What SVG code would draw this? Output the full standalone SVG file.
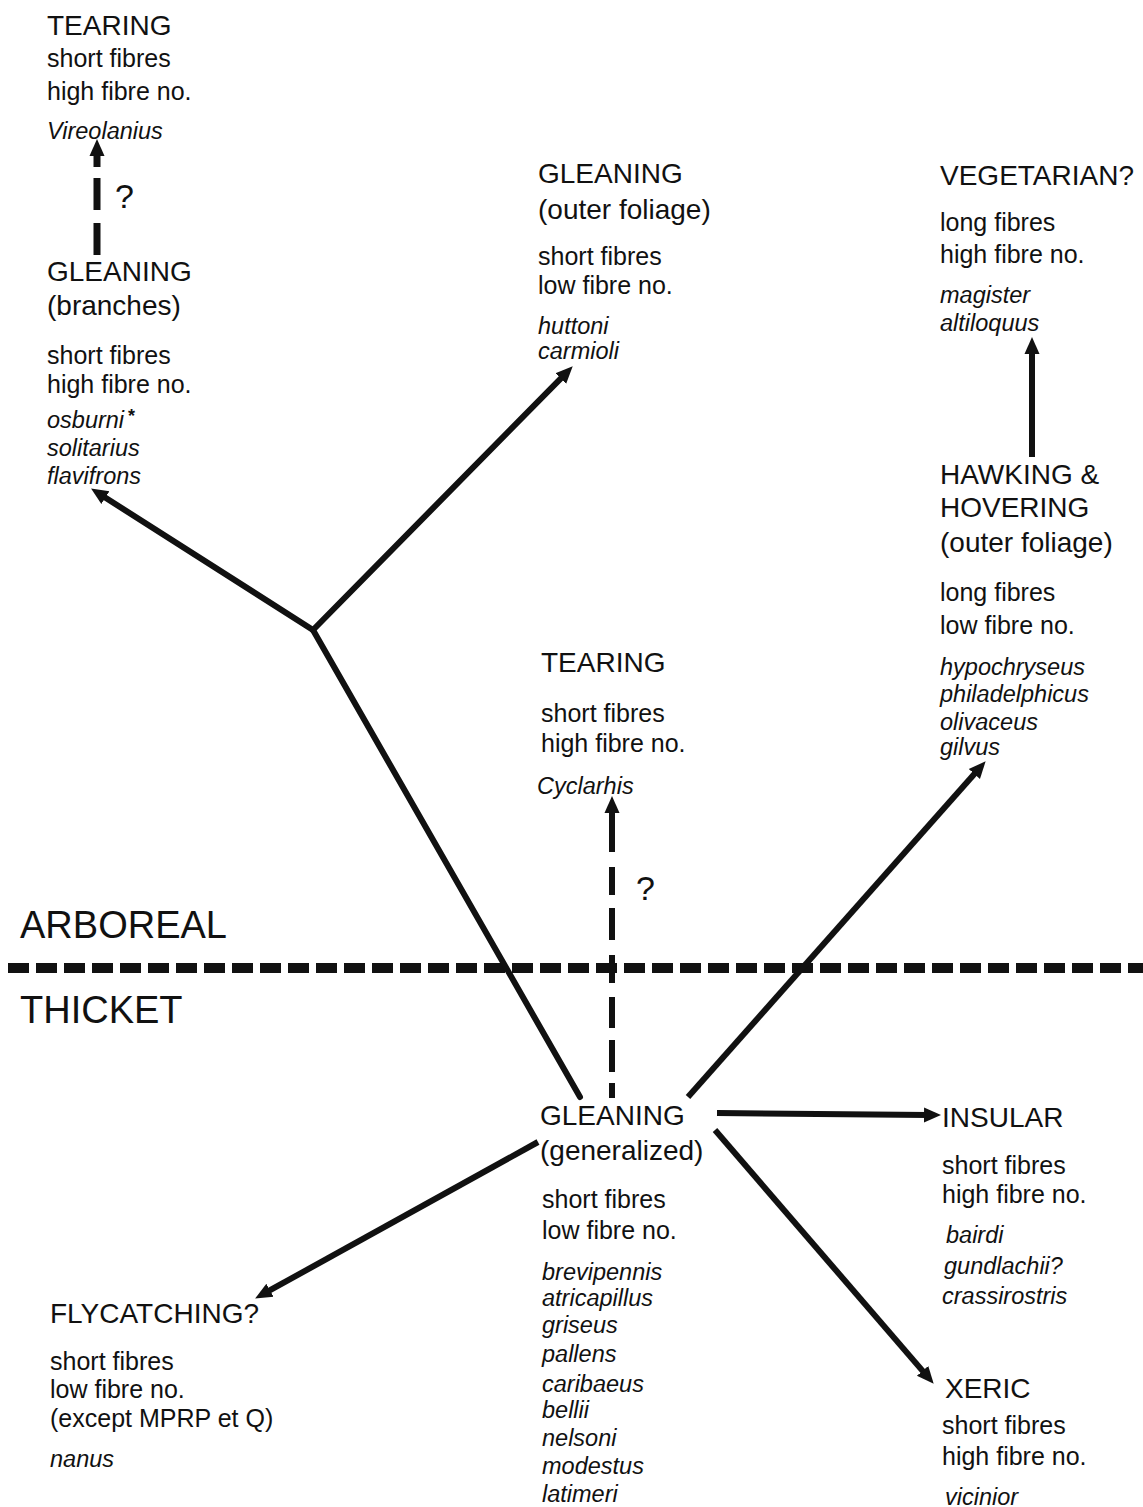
<svg xmlns="http://www.w3.org/2000/svg" width="1143" height="1507" viewBox="0 0 1143 1507">
<style>
text{font-family:"Liberation Sans",Arial,sans-serif;fill:#111}
.h{font-size:28px}
.d{font-size:25px}
.s{font-size:23.5px;font-style:italic}
.q{font-size:34px}
.zone{font-size:38px}
.ln{stroke:#111;stroke-width:6;fill:none}
.border{stroke:#111;stroke-width:10;stroke-dasharray:21 7;fill:none}
.thick{stroke-width:7}
</style>
<defs>
<marker id="ah" markerUnits="userSpaceOnUse" markerWidth="19" markerHeight="17" refX="4" refY="8.5" orient="auto">
<path d="M0,1 L17,8.5 L0,16 z" fill="#111"/>
</marker>
</defs>
<rect width="1143" height="1507" fill="#fff"/>

<g id="connectors">
<line class="border" x1="8" y1="968" x2="1143" y2="968"/>
<path class="ln" d="M580,1097 L313,630" stroke-linecap="round"/>
<line class="ln" x1="313" y1="630" x2="102" y2="495.5" marker-end="url(#ah)" stroke-linecap="round"/>
<line class="ln" x1="313" y1="630" x2="563.6" y2="375.6" marker-end="url(#ah)" stroke-linecap="round"/>
<line class="ln" x1="688" y1="1097" x2="977" y2="771" marker-end="url(#ah)"/>
<line class="ln" x1="538" y1="1142" x2="266.5" y2="1292.2" marker-end="url(#ah)"/>
<line class="ln" x1="717" y1="1113" x2="928" y2="1115" marker-end="url(#ah)"/>
<line class="ln" x1="715" y1="1130" x2="925.2" y2="1373.9" marker-end="url(#ah)"/>
<line class="ln" x1="1032" y1="457" x2="1032" y2="350" marker-end="url(#ah)"/>
<line class="ln" x1="612" y1="852" x2="612" y2="809" marker-end="url(#ah)"/>
<path class="ln" d="M612,867 V895 M612,908 V940 M612,955 V983 M612,997 V1028 M612,1040 V1072 M612,1083 V1098"/>
<line class="ln thick" x1="97" y1="167" x2="97" y2="152" marker-end="url(#ah)"/>
<path class="ln thick" d="M97,178 V210 M97,223 V255"/>
</g>

<g id="tearing-vireolanius">
<text class="h" x="47" y="35">TEARING</text>
<text class="d" x="47" y="67">short fibres</text>
<text class="d" x="47" y="100">high fibre no.</text>
<text class="s" x="47" y="139">Vireolanius</text>
</g>
<text class="q" x="115" y="208">?</text>

<g id="gleaning-branches">
<text class="h" x="47" y="281">GLEANING</text>
<text class="h" x="47" y="315">(branches)</text>
<text class="d" x="47" y="364">short fibres</text>
<text class="d" x="47" y="393">high fibre no.</text>
<text class="s" x="47" y="428">osburni<tspan font-style="normal" font-weight="bold" dx="4" dy="-6" font-size="18">*</tspan></text>
<text class="s" x="47" y="456">solitarius</text>
<text class="s" x="47" y="484">flavifrons</text>
</g>

<g id="gleaning-outer">
<text class="h" x="538" y="183">GLEANING</text>
<text class="h" x="538" y="219">(outer foliage)</text>
<text class="d" x="538" y="265">short fibres</text>
<text class="d" x="538" y="294">low fibre no.</text>
<text class="s" x="538" y="334">huttoni</text>
<text class="s" x="538" y="359">carmioli</text>
</g>

<g id="vegetarian">
<text class="h" x="940" y="185">VEGETARIAN?</text>
<text class="d" x="940" y="231">long fibres</text>
<text class="d" x="940" y="263">high fibre no.</text>
<text class="s" x="940" y="303">magister</text>
<text class="s" x="940" y="331">altiloquus</text>
</g>

<g id="hawking">
<text class="h" x="940" y="484">HAWKING &amp;</text>
<text class="h" x="940" y="517">HOVERING</text>
<text class="h" x="940" y="552">(outer foliage)</text>
<text class="d" x="940" y="601">long fibres</text>
<text class="d" x="940" y="634">low fibre no.</text>
<text class="s" x="940" y="675">hypochryseus</text>
<text class="s" x="940" y="702">philadelphicus</text>
<text class="s" x="940" y="730">olivaceus</text>
<text class="s" x="940" y="755">gilvus</text>
</g>

<g id="tearing-cyclarhis">
<text class="h" x="541" y="672">TEARING</text>
<text class="d" x="541" y="722">short fibres</text>
<text class="d" x="541" y="752">high fibre no.</text>
<text class="s" x="537" y="794">Cyclarhis</text>
</g>
<text class="q" x="636" y="900">?</text>

<g id="zones">
<text class="zone" x="20" y="938">ARBOREAL</text>
<text class="zone" x="20" y="1023">THICKET</text>
</g>

<g id="gleaning-generalized">
<text class="h" x="540" y="1125">GLEANING</text>
<text class="h" x="540" y="1160">(generalized)</text>
<text class="d" x="542" y="1208">short fibres</text>
<text class="d" x="542" y="1239">low fibre no.</text>
<text class="s" x="542" y="1280">brevipennis</text>
<text class="s" x="542" y="1306">atricapillus</text>
<text class="s" x="542" y="1333">griseus</text>
<text class="s" x="542" y="1362">pallens</text>
<text class="s" x="542" y="1392">caribaeus</text>
<text class="s" x="542" y="1418">bellii</text>
<text class="s" x="542" y="1446">nelsoni</text>
<text class="s" x="542" y="1474">modestus</text>
<text class="s" x="542" y="1502">latimeri</text>
</g>

<g id="insular">
<text class="h" x="942" y="1127">INSULAR</text>
<text class="d" x="942" y="1174">short fibres</text>
<text class="d" x="942" y="1203">high fibre no.</text>
<text class="s" x="946" y="1243">bairdi</text>
<text class="s" x="944" y="1274">gundlachii?</text>
<text class="s" x="942" y="1304">crassirostris</text>
</g>

<g id="xeric">
<text class="h" x="945" y="1398">XERIC</text>
<text class="d" x="942" y="1434">short fibres</text>
<text class="d" x="942" y="1465">high fibre no.</text>
<text class="s" x="945" y="1505">vicinior</text>
</g>

<g id="flycatching">
<text class="h" x="50" y="1323">FLYCATCHING?</text>
<text class="d" x="50" y="1370">short fibres</text>
<text class="d" x="50" y="1398">low fibre no.</text>
<text class="d" x="50" y="1427">(except MPRP et Q)</text>
<text class="s" x="50" y="1467">nanus</text>
</g>
</svg>
